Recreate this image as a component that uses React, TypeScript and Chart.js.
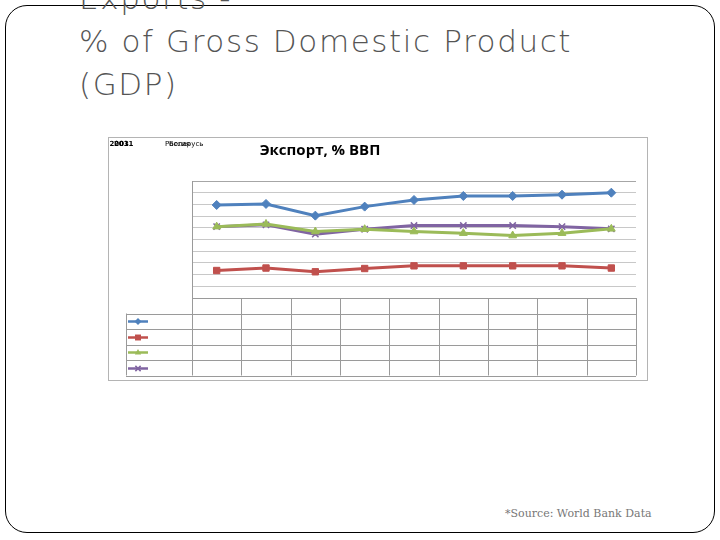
import React, { useEffect, useRef } from "react";
import { Chart, registerables } from "chart.js";

Chart.register(...registerables);

const categories = ["2003", "2004", "2005", "2006", "2007", "2008", "2009", "2010", "2011"];
const seriesNames = ["Россия", "Казахстан", "Беларусь", "Украина"];
const seriesBlue = [7.95, 8.04, 7.04, 7.81, 8.38, 8.72, 8.72, 8.83, 9.0];
const seriesRed = [2.35, 2.56, 2.24, 2.52, 2.75, 2.75, 2.75, 2.75, 2.56];
const seriesGreen = [6.1, 6.33, 5.68, 5.88, 5.68, 5.54, 5.34, 5.54, 5.91];
const seriesPurple = [6.1, 6.25, 5.46, 5.88, 6.19, 6.19, 6.19, 6.1, 5.91];
const chartTitle = "Экспорт, % ВВП";
const slideTitle = ["Exports -", "% of Gross Domestic Product", "(GDP)"];
const sourceText = "*Source: World Bank Data";

const COLORS = ["#4F81BD", "#C0504D", "#9BBB59", "#8064A2"];
const STYLES = ["rectRot", "rect", "triangle", "crossRot"];
const RADII = [4.5, 4.5, 4.5, 4.5];

function drawMarker(ctx: CanvasRenderingContext2D, style: string, x: number, y: number, r: number, color: string) {
  ctx.save();
  ctx.fillStyle = color;
  ctx.strokeStyle = color;
  ctx.lineWidth = 1.5;
  ctx.beginPath();
  if (style === "rectRot") {
    ctx.moveTo(x, y - r);
    ctx.lineTo(x + r, y);
    ctx.lineTo(x, y + r);
    ctx.lineTo(x - r, y);
    ctx.closePath();
    ctx.fill();
  } else if (style === "rect") {
    const s = r * 0.85;
    ctx.rect(x - s, y - s, 2 * s, 2 * s);
    ctx.fill();
  } else if (style === "triangle") {
    ctx.moveTo(x, y - r);
    ctx.lineTo(x + r * 0.9, y + r * 0.6);
    ctx.lineTo(x - r * 0.9, y + r * 0.6);
    ctx.closePath();
    ctx.fill();
  } else {
    const s = r * 0.75;
    ctx.moveTo(x - s, y - s);
    ctx.lineTo(x + s, y + s);
    ctx.moveTo(x + s, y - s);
    ctx.lineTo(x - s, y + s);
    ctx.stroke();
  }
  ctx.restore();
}

const tablePlugin = {
  id: "tablePlugin",
  afterDraw(chart: any) {
    const ctx = chart.ctx;
    const ca = chart.chartArea;
    const xs = chart.scales.x;
    const n = categories.length;
    const colW = (ca.right - ca.left) / n;
    const rowH = 15.5;
    ctx.save();
    ctx.strokeStyle = "#b4b4b4";
    ctx.lineWidth = 1;
    ctx.strokeRect(0.5, 0.5, chart.width - 1, chart.height - 1);
    ctx.strokeStyle = "#a6a6a6";
    ctx.beginPath();
    ctx.moveTo(ca.left, Math.round(ca.top) + 0.5);
    ctx.lineTo(ca.right, Math.round(ca.top) + 0.5);
    ctx.stroke();
    ctx.strokeStyle = "#9a9a9a";
    const tTop = ca.bottom;
    const legendLeft = ca.left - 66;
    const rowsY: number[] = [];
    for (let r = 0; r <= seriesNames.length + 1; r++) rowsY.push(tTop + r * rowH);
    ctx.beginPath();
    rowsY.forEach((y, r) => {
      const yy = Math.round(y) + 0.5;
      ctx.moveTo(r >= 1 ? legendLeft : ca.left, yy);
      ctx.lineTo(ca.right, yy);
    });
    for (let i = 0; i < n; i++) {
      const x = Math.round(xs.getPixelForValue(i) - colW / 2) + 0.5;
      ctx.moveTo(x, i === 0 ? ca.top : tTop);
      ctx.lineTo(x, rowsY[rowsY.length - 1]);
    }
    const xr = Math.round(ca.right) + 0.5;
    ctx.moveTo(xr, tTop);
    ctx.lineTo(xr, rowsY[rowsY.length - 1]);
    const xl = Math.round(legendLeft) + 0.5;
    ctx.moveTo(xl, rowsY[1]);
    ctx.lineTo(xl, rowsY[rowsY.length - 1]);
    ctx.stroke();
    chart.data.datasets.forEach((ds: any, i: number) => {
      const cy = Math.round(rowsY[1 + i] + rowH / 2) + 0.5;
      const cx = legendLeft + 12;
      ctx.strokeStyle = ds.borderColor;
      ctx.lineWidth = 2.5;
      ctx.beginPath();
      ctx.moveTo(cx - 10, cy);
      ctx.lineTo(cx + 10, cy);
      ctx.stroke();
      drawMarker(ctx, ds.pointStyle, cx, cy, 3.5, ds.borderColor);
    });
    ctx.fillStyle = "#000";
    ctx.font = "bold 15px 'Open Sans', sans-serif";
    ctx.textAlign = "center";
    ctx.textBaseline = "middle";
    ctx.fillText(chartTitle, 212, 14);
    ctx.font = "bold 7px 'DejaVu Sans', sans-serif";
    ctx.textAlign = "left";
    ctx.fillText("2003", 1.5, 7);
    ctx.fillText("2011", 6, 7);
    ctx.font = "7px 'DejaVu Sans', sans-serif";
    ctx.fillText(seriesNames[0], 57, 7);
    ctx.fillText(seriesNames[2], 61, 7);
    ctx.restore();
  },
};

export default function App() {
  const ref = useRef<HTMLCanvasElement>(null);
  useEffect(() => {
    if (!ref.current) return;
    const data = [seriesBlue, seriesRed, seriesGreen, seriesPurple];
    const chart = new Chart(ref.current, {
      type: "line",
      data: {
        labels: categories,
        datasets: data.map((d, i) => ({
          label: seriesNames[i],
          data: d,
          borderColor: COLORS[i],
          backgroundColor: COLORS[i],
          pointStyle: STYLES[i] as any,
          pointRadius: RADII[i],
          pointBorderWidth: i === 3 ? 1.5 : 1,
          pointBorderColor: COLORS[i],
          pointBackgroundColor: COLORS[i],
          borderWidth: 3,
          tension: 0,
        })),
      },
      options: {
        animation: false,
        responsive: false,
        devicePixelRatio: 1,
        layout: { padding: { left: 84, top: 44, right: 12, bottom: 83 } },
        plugins: { legend: { display: false }, title: { display: false }, tooltip: { enabled: false } },
        scales: {
          x: { display: false, offset: true },
          y: {
            min: 0,
            max: 10,
            ticks: { display: false, stepSize: 1 },
            grid: { color: "#c8c8c8", drawTicks: false, lineWidth: 1 },
            border: { display: true, color: "#a6a6a6" },
          },
        },
      },
      plugins: [tablePlugin],
    });
    return () => chart.destroy();
  }, []);

  return (
    <div style={{ position: "absolute", left: 0, top: 0, width: 720, height: 540, overflow: "hidden", background: "#fff" }}>
      <div
        style={{
          position: "absolute",
          left: 5,
          top: 5,
          width: 708,
          height: 526,
          border: "1.5px solid #000",
          borderRadius: 22,
        }}
      />
      <div
        style={{
          position: "absolute",
          left: 79,
          top: -23,
          fontFamily: "'DejaVu Sans', sans-serif",
          fontWeight: 200,
          fontSize: 31,
          letterSpacing: 1.6,
          lineHeight: "43px",
          color: "#555",
          whiteSpace: "nowrap",
        }}
      >
        {slideTitle.map((t, i) => (
          <div key={i}>{t}</div>
        ))}
      </div>
      <canvas ref={ref} width={540} height={244} style={{ position: "absolute", left: 108, top: 137, width: 540, height: 244 }} />
      <div
        style={{
          position: "absolute",
          left: 505,
          top: 507,
          fontFamily: "'DejaVu Serif', serif",
          fontSize: 11,
          color: "#777",
          whiteSpace: "nowrap",
        }}
      >
        {sourceText}
      </div>
    </div>
  );
}
